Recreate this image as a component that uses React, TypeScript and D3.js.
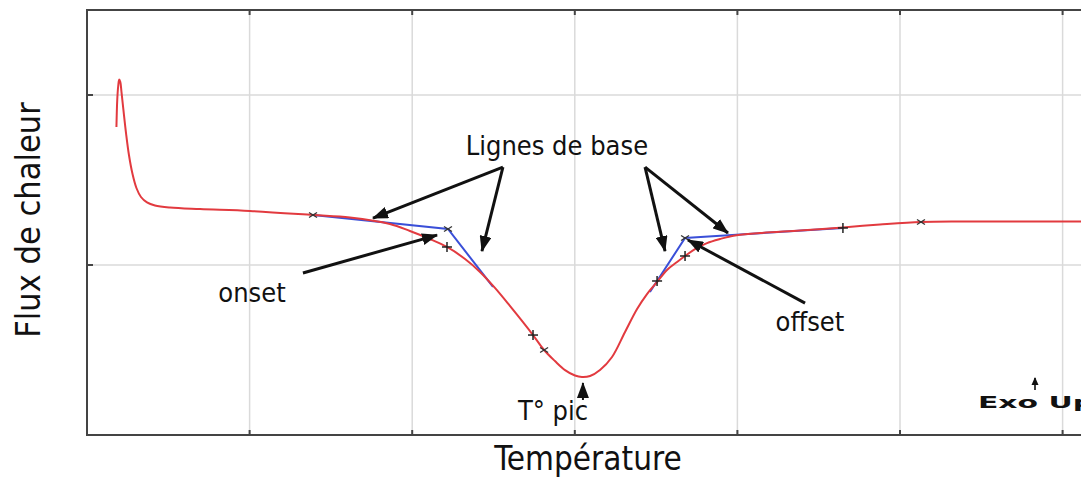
import * as React from 'react';
import { scaleLinear, line, curveCatmullRom, range } from 'd3';

// DSC curve (temperature in °C, heat flux in mW)
const curveTemp = [101.81, 101.86, 101.92, 101.98, 102.05, 102.12, 102.24, 102.40, 102.58, 102.80, 103.04, 103.32, 103.69, 104.18, 105.10, 106.95, 110.02, 113.90, 116.17, 118.63, 119.86, 121.09, 122.14, 123.25, 124.17, 125.09, 126.01, 127.43, 128.11, 128.78, 129.40, 130.01, 130.44, 130.94, 131.55, 132.29, 133.09, 133.83, 134.44, 135.06, 135.67, 136.29, 136.78, 137.39, 138.13, 138.93, 139.85, 141.39, 143.85, 146.49, 148.77, 151.29, 153.69, 156.15, 161.69];
const curveFlux = [18.12, 19.71, 20.53, 20.91, 20.76, 20.18, 19.12, 17.76, 16.47, 15.35, 14.53, 14.00, 13.68, 13.50, 13.38, 13.29, 13.18, 12.94, 12.79, 12.41, 12.00, 11.53, 11.06, 10.35, 9.59, 8.65, 7.59, 5.88, 5.00, 4.35, 3.82, 3.50, 3.41, 3.47, 3.82, 4.59, 6.06, 7.41, 8.29, 9.00, 9.71, 10.18, 10.53, 10.94, 11.29, 11.53, 11.74, 11.88, 12.03, 12.21, 12.38, 12.53, 12.56, 12.56, 12.56];

// construction lines (baselines + tangents), each a polyline
const onsetTemp = [113.90, 122.20, 124.97];
const onsetFlux = [12.94, 12.12, 8.71];
const offsetTemp = [134.62, 136.78, 146.49];
const offsetFlux = [8.41, 11.59, 12.18];

// small markers on the curve
const plusTemp = [122.14, 127.43, 135.06, 136.78, 146.49];
const plusFlux = [11.06, 5.88, 9.06, 10.53, 12.18];
const crossTemp = [113.90, 122.20, 128.11, 136.78, 151.29];
const crossFlux = [12.94, 12.12, 5.00, 11.59, 12.53];

// annotation arrows [tailT, tailF, tipT, tipF]
const arrows = [
    [125.58, 15.76, 117.59, 12.76],
    [125.58, 15.76, 124.29, 10.82],
    [134.32, 15.76, 135.55, 10.82],
    [134.32, 15.76, 139.42, 11.88],
    [113.28, 9.53, 121.53, 11.76],
    [144.16, 7.76, 136.96, 11.47],
    [130.50, 2.06, 130.50, 3.06],
];
const labelText = ['Lignes de base', 'onset', 'offset', 'T° pic'];
const labelTemp = [128.9, 110.15, 144.46, 128.66];
const labelFlux = [16.47, 7.82, 6.12, 0.88];

const xTicks = range(110, 161, 10);
const yTicks = [10, 20];

const W = 1081;
const H = 477;
const font = '"DejaVu Sans Condensed", "DejaVu Sans", sans-serif';

const App = () => {
    const x = scaleLinear().domain([100, 162]).range([87, 87 + 62 * 16.26]);
    const y = scaleLinear().domain([0, 25]).range([435, 10]);

    const pts = curveTemp.map((t, i) => [x(t), y(curveFlux[i])] as [number, number]);
    const smooth = line().curve(curveCatmullRom.alpha(0.5));
    const straight = line();

    const onsetPts = onsetTemp.map((t, i) => [x(t), y(onsetFlux[i])] as [number, number]);
    const offsetPts = offsetTemp.map((t, i) => [x(t), y(offsetFlux[i])] as [number, number]);

    const left = x(100), right = x(162), top = y(25), bottom = y(0);

    return (
        <svg width={W} height={H} style={{ position: 'absolute', left: 0, top: 0, background: 'white' }}>
            <defs>
                <marker id="head" markerUnits="userSpaceOnUse" markerWidth="16" markerHeight="12" refX="15" refY="6" orient="auto">
                    <path d="M0,0 L16,6 L0,12 Z" fill="#111" />
                </marker>
                <marker id="small" markerUnits="userSpaceOnUse" markerWidth="8" markerHeight="8" refX="7" refY="4" orient="auto">
                    <path d="M0,0.5 L8,4 L0,7.5 Z" fill="#111" />
                </marker>
            </defs>

            {/* grid */}
            {xTicks.map(t => (
                <line key={'gx' + t} x1={x(t)} x2={x(t)} y1={top} y2={bottom} stroke="#dadada" strokeWidth={1.5} />
            ))}
            {yTicks.map(t => (
                <line key={'gy' + t} x1={left} x2={right} y1={y(t)} y2={y(t)} stroke="#dadada" strokeWidth={1.5} />
            ))}

            {/* frame + ticks */}
            <rect x={left} y={top} width={right - left} height={bottom - top} fill="none" stroke="#444" strokeWidth={2} />
            {xTicks.map(t => (
                <g key={'tx' + t} stroke="#444" strokeWidth={2}>
                    <line x1={x(t)} x2={x(t)} y1={bottom} y2={bottom - 5} />
                    <line x1={x(t)} x2={x(t)} y1={top} y2={top + 5} />
                </g>
            ))}
            {yTicks.map(t => (
                <line key={'ty' + t} x1={left} x2={left + 6} y1={y(t)} y2={y(t)} stroke="#444" strokeWidth={2} />
            ))}

            {/* construction lines */}
            <path d={straight(onsetPts)!} fill="none" stroke="#3a4fd8" strokeWidth={2} />
            <path d={straight(offsetPts)!} fill="none" stroke="#3a4fd8" strokeWidth={2} />

            {/* DSC curve */}
            <path d={smooth(pts)!} fill="none" stroke="#e23a3f" strokeWidth={2} />

            {/* markers */}
            {plusTemp.map((t, i) => {
                const cx = x(t), cy = y(plusFlux[i]);
                return (
                    <g key={'p' + i} stroke="#222" strokeWidth={1.5}>
                        <line x1={cx - 5} x2={cx + 5} y1={cy} y2={cy} />
                        <line x1={cx} x2={cx} y1={cy - 5} y2={cy + 5} />
                    </g>
                );
            })}
            {crossTemp.map((t, i) => {
                const cx = x(t), cy = y(crossFlux[i]);
                return (
                    <g key={'c' + i} stroke="#333" strokeWidth={1.3}>
                        <line x1={cx - 4} x2={cx + 4} y1={cy - 2.5} y2={cy + 2.5} />
                        <line x1={cx - 4} x2={cx + 4} y1={cy + 2.5} y2={cy - 2.5} />
                    </g>
                );
            })}

            {/* annotations */}
            {arrows.map((a, i) => (
                <line key={'a' + i} x1={x(a[0])} y1={y(a[1])} x2={x(a[2])} y2={y(a[3])}
                    stroke="#111" strokeWidth={i === 6 ? 2 : 3} markerEnd="url(#head)" />
            ))}
            {labelText.map((s, i) => (
                <text key={'l' + i} x={x(labelTemp[i])} y={y(labelFlux[i])} textAnchor="middle"
                    fontFamily={font} fontSize={27} fill="#111">{s}</text>
            ))}

            {/* Exo Up */}
            <line x1={1035} x2={1035} y1={390} y2={378} stroke="#111" strokeWidth={1.6} markerEnd="url(#small)" />
            <text x={978} y={408} fontFamily='"DejaVu Sans", sans-serif' fontSize={16} fontWeight="bold" fill="#111"
                textLength={116} lengthAdjust="spacingAndGlyphs">Exo Up</text>

            {/* axis titles */}
            <text x={588} y={470} textAnchor="middle" fontFamily={font} fontSize={33} fill="#111">Température</text>
            <text transform="translate(40,220) rotate(-90)" textAnchor="middle" fontFamily={font} fontSize={34} fill="#111">Flux de chaleur</text>
        </svg>
    );
};

export default App;
